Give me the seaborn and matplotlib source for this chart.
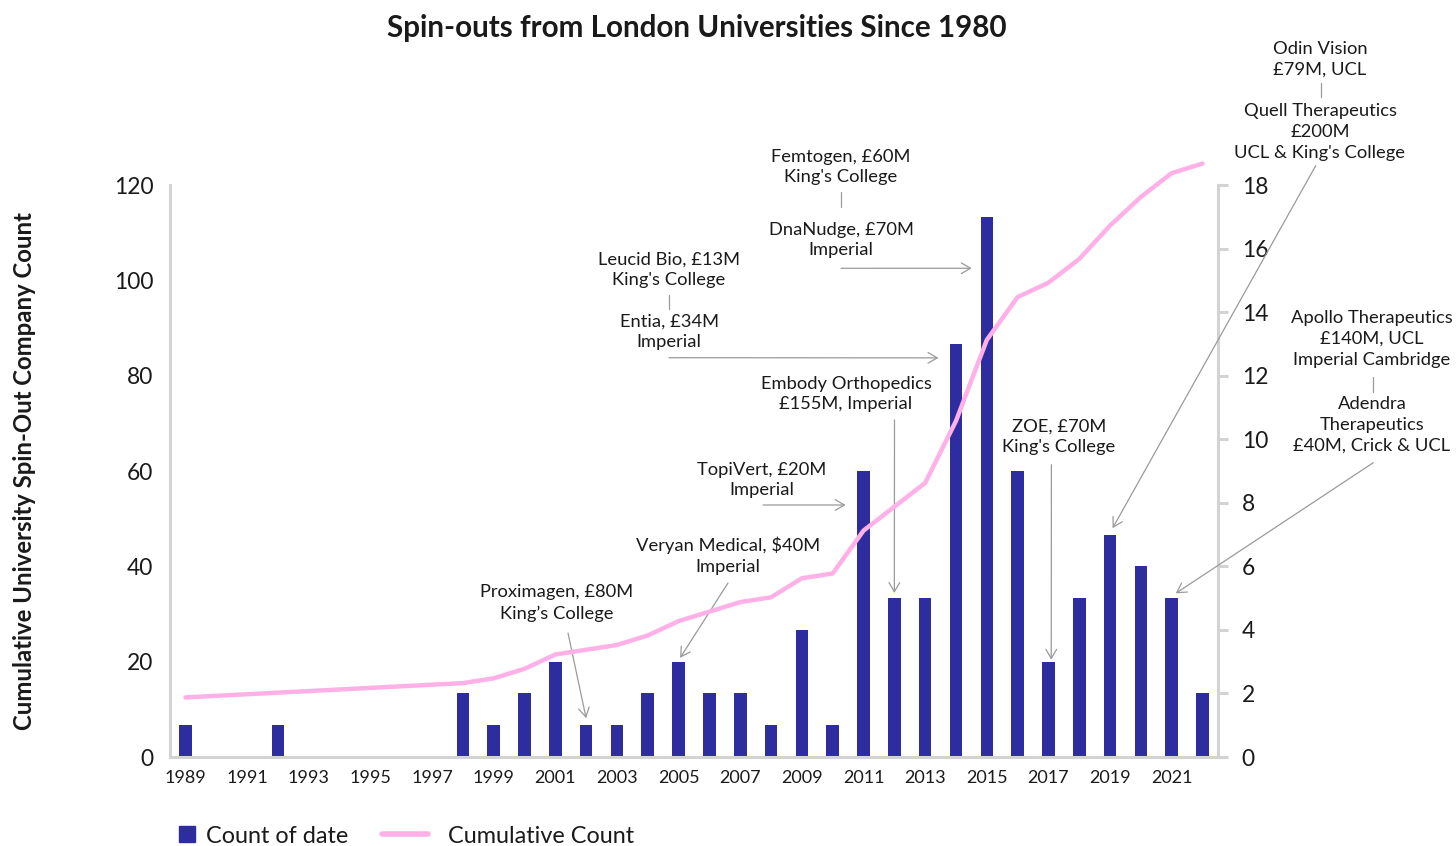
import matplotlib
matplotlib.use("Agg")
import matplotlib.pyplot as plt
import seaborn as sns
import pandas as pd
from matplotlib.lines import Line2D

# ---------------- data ----------------
years = [1989, 1992, 1998, 1999, 2000, 2001, 2002, 2003, 2004, 2005, 2006, 2007, 2008,
         2009, 2010, 2011, 2012, 2013, 2014, 2015, 2016, 2017, 2018, 2019, 2020, 2021, 2022]
counts = [1, 1, 2, 1, 2, 3, 1, 1, 2, 3, 2, 2, 1,
          4, 1, 9, 5, 5, 13, 17, 9, 3, 5, 7, 6, 5, 2]
cumulative = [12.5, 13.5, 15.5, 16.5, 18.5, 21.5, 22.5, 23.5, 25.5, 28.5, 30.5, 32.5, 33.5,
              37.5, 38.5, 47.5, 52.5, 57.5, 70.5, 87.5, 96.5, 99.5, 104.5, 111.5, 117.5, 122.5, 124.5]
xtick_years = [1989, 1991, 1993, 1995, 1997, 1999, 2001, 2003, 2005, 2007, 2009,
               2011, 2013, 2015, 2017, 2019, 2021]
left_ticks = [0, 20, 40, 60, 80, 100, 120]
right_ticks = [0, 2, 4, 6, 8, 10, 12, 14, 16, 18]

title = "Spin-outs from London Universities Since 1980"
ylabel = "Cumulative University Spin-Out Company Count"
legend_labels = ["Count of date", "Cumulative Count"]

# annotation texts
ann_texts = [
    "Proximagen, £80M\nKing\u2019s College",
    "Veryan Medical, $40M\nImperial",
    "TopiVert, £20M\nImperial",
    "Embody Orthopedics\n£155M, Imperial",
    "Leucid Bio, £13M\nKing's College",
    "Entia, £34M\nImperial",
    "Femtogen, £60M\nKing's College",
    "DnaNudge, £70M\nImperial",
    "ZOE, £70M\nKing's College",
    "Odin Vision\n£79M, UCL",
    "Quell Therapeutics\n£200M\nUCL & King's College",
    "Apollo Therapeutics\n£140M, UCL\nImperial Cambridge",
    "Adendra\nTherapeutics\n£40M, Crick & UCL",
]
# text block centres (figure pixels from top-left)
ann_pos = [(557, 603), (728, 556), (762, 480), (846, 394), (669, 270), (669, 332),
           (841, 167), (841, 240), (1059, 437), (1320, 59), (1320, 132), (1372, 339), (1372, 425)]
# arrows: tail (figure pixels) -> head (year, bar-axis value)
arrow_tails = [(568, 633), (728, 583), (763, 505), (894.5, 420), (669, 357.7),
               (841, 268.3), (1051.4, 464.7), (1315.7, 165.7), (1373.3, 462.7)]
arrow_heads = [(2002.0, 1.22), (2005.05, 3.12), (2010.42, 7.93), (2012.0, 5.16), (2013.43, 12.56),
               (2014.51, 15.38), (2017.09, 3.06), (2019.08, 7.2), (2021.13, 5.15)]
# short connector lines (figure pixels)
connectors = [((668.5, 295), (668.5, 309.3)), ((841, 191.7), (841, 206.7)),
              ((1320.7, 83), (1320.7, 97)), ((1372.7, 377), (1372.7, 391.7))]

# ---------------- style ----------------
BAR = "#2D2DA0"
PINK = "#FFB0E6"
SPINE = "#D3D3D3"
ARROW = "#9A9A9A"
TXT = "#1A1A1A"

sns.set_theme(style="white")
plt.rcParams['font.family'] = ['Lato', 'DejaVu Sans']
plt.rcParams['text.color'] = TXT
plt.rcParams['axes.labelcolor'] = TXT
plt.rcParams['xtick.color'] = TXT
plt.rcParams['ytick.color'] = TXT

W, H = 1456, 846
fig = plt.figure(figsize=(W / 100, H / 100), dpi=100)
L, R, T, B = 170, 1218, 185, 757
ax = fig.add_axes([L / W, 1 - B / H, (R - L) / W, (B - T) / H])
ax2 = ax.twinx()


def fxy(px, py):
    return (px / W, 1 - py / H)


df = pd.DataFrame({"year": years, "count": counts, "cum": cumulative})

sns.barplot(data=df, x="year", y="count", ax=ax2, native_scale=True, color=BAR,
            width=0.41, saturation=1, edgecolor="none", linewidth=0, errorbar=None)
sns.lineplot(data=df, x="year", y="cum", ax=ax, color=PINK, linewidth=3.2,
             solid_capstyle="round", solid_joinstyle="round", clip_on=False)

ax.set_zorder(ax2.get_zorder() + 1)
ax.patch.set_visible(False)

ax.set_xlim(1988.5, 2022.5)
ax.set_ylim(0, 120)
ax2.set_ylim(0, 18)
ax.set_xticks(xtick_years)
ax.set_xticklabels([str(y) for y in xtick_years])
ax.set_yticks(left_ticks)
ax2.set_yticks(right_ticks)

ax.set_xlabel("")
ax2.set_ylabel("")
ax.set_ylabel(ylabel, fontsize=17.2, fontweight="bold")
ax.yaxis.set_label_coords(-0.128, 0.5)

ax.tick_params(axis="y", length=0, pad=12, labelsize=16.4)
ax.tick_params(axis="x", length=0, pad=9, labelsize=13)
ax2.tick_params(axis="y", length=7, width=2.2, color=SPINE, pad=10, labelsize=16.4)

for s in ["top", "right"]:
    ax.spines[s].set_visible(False)
for s in ["left", "bottom"]:
    ax.spines[s].set_color(SPINE)
    ax.spines[s].set_linewidth(2.2)
for s in ["top", "left", "bottom"]:
    ax2.spines[s].set_visible(False)
ax2.spines["right"].set_color(SPINE)
ax2.spines["right"].set_linewidth(2.2)

# title
fig.text(*fxy(697, 28), title, ha="center", va="center", fontsize=21.3, fontweight="bold")

# annotations
for txt, (px, py) in zip(ann_texts, ann_pos):
    fig.text(*fxy(px, py), txt, ha="center", va="center", fontsize=13.2, linespacing=1.38,
             color=TXT)

for (tx, ty), (hx, hy) in zip(arrow_tails, arrow_heads):
    ax2.annotate("", xy=(hx, hy), xycoords="data", xytext=fxy(tx, ty),
                 textcoords="figure fraction",
                 arrowprops=dict(arrowstyle="->,head_length=0.55,head_width=0.32",
                                 color=ARROW, lw=0.9, shrinkA=0, shrinkB=0),
                 annotation_clip=False)

for (x0, y0), (x1, y1) in connectors:
    fig.add_artist(Line2D([x0 / W, x1 / W], [1 - y0 / H, 1 - y1 / H], color=ARROW, lw=0.9))

# legends
h1 = [Line2D([], [], marker="s", ls="none", color=BAR, markersize=11)]
fig.legend(handles=h1, labels=[legend_labels[0]], loc="center left",
           bbox_to_anchor=fxy(176, 836), frameon=False, fontsize=16.8,
           handlelength=0.9, handletextpad=0.4, borderpad=0, borderaxespad=0)
h2 = [Line2D([], [], color=PINK, lw=4, solid_capstyle="round")]
fig.legend(handles=h2, labels=[legend_labels[1]], loc="center left",
           bbox_to_anchor=fxy(382, 836), frameon=False, fontsize=16.8,
           handlelength=1.95, handletextpad=0.9, borderpad=0, borderaxespad=0)

fig.savefig("out.png", dpi=100, facecolor="white")
